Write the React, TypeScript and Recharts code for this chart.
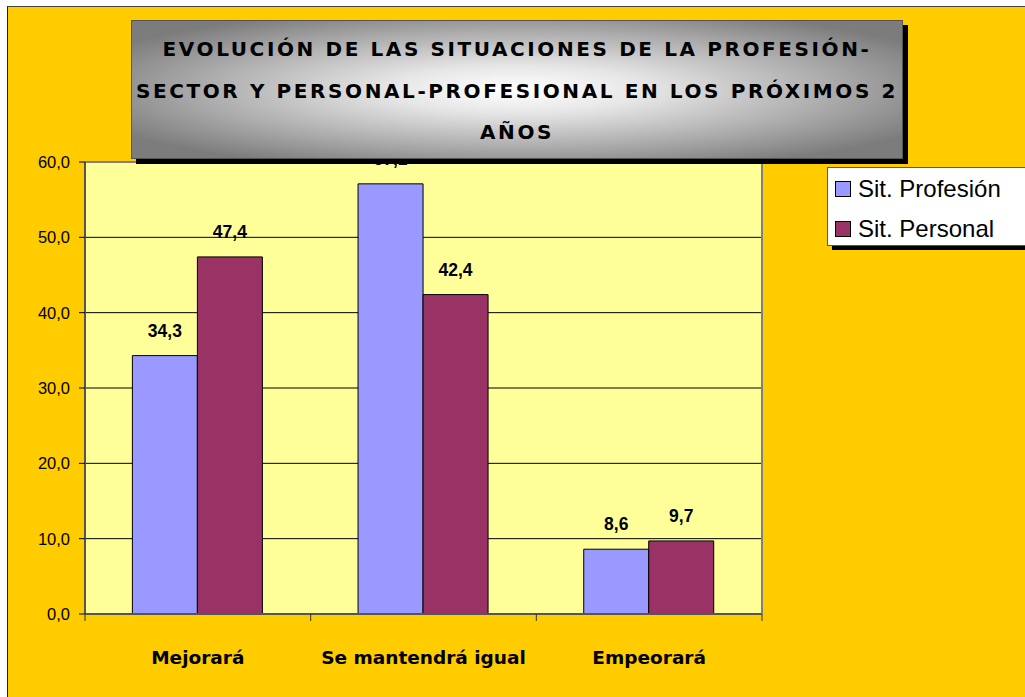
import React from 'react';
import { BarChart, Bar, XAxis, YAxis, CartesianGrid, LabelList, Legend } from 'recharts';

const categories = ['Mejorará', 'Se mantendrá igual', 'Empeorará'];
const profesion = [34.3, 57.1, 8.6];
const personal = [47.4, 42.4, 9.7];
const yTicks = [0, 10, 20, 30, 40, 50, 60];
const seriesNames = ['Sit. Profesión', 'Sit. Personal'];
const seriesColors = ['#9999FF', '#993366'];
const titleLines = [
  'EVOLUCIÓN DE LAS SITUACIONES DE LA PROFESIÓN-',
  'SECTOR Y PERSONAL-PROFESIONAL EN LOS PRÓXIMOS 2',
  'AÑOS',
];

const data = categories.map((c, i) => ({ name: c, profesion: profesion[i], personal: personal[i] }));

const fmt = (v: number) => v.toFixed(1).replace('.', ',');

const comic = '"DejaVu Sans", sans-serif';
const arial = '"Liberation Sans", Arial, sans-serif';

// Category tick: label at band centre plus tick marks at the band boundaries (half band = payload.offset)
const CatTick = (props: any) => {
  const { x, y, payload, index, visibleTicksCount } = props;
  const half = Number(payload.offset) || 0;
  const isLast = index === visibleTicksCount - 1;
  return (
    <g>
      <line x1={x - half} x2={x - half} y1={y} y2={y + 7} stroke="#333" strokeWidth={1} />
      {isLast && <line x1={x + half} x2={x + half} y1={y} y2={y + 7} stroke="#333" strokeWidth={1} />}
      <text x={x} y={y + 50} textAnchor="middle" fontFamily={comic} fontWeight="bold" fontSize={18.5} fill="#000">
        {payload.value}
      </text>
    </g>
  );
};

const NoTick = () => <g />;

const LegendContent = () => (
  <div style={{ fontFamily: arial, fontSize: 24, color: '#000', padding: '2px 0 0 7px' }}>
    {seriesNames.map((n, i) => (
      <div key={n} style={{ display: 'flex', alignItems: 'center', height: 38, marginBottom: i === 0 ? 2 : 0 }}>
        <span style={{ display: 'inline-block', width: 14, height: 14, background: seriesColors[i], border: '1.5px solid #000', marginRight: 7 }} />
        <span>{n}</span>
      </div>
    ))}
  </div>
);

const labelStyle = { fontFamily: arial, fontWeight: 'bold', fontSize: 17.5, fill: '#000' };

export default function App() {
  return (
    <div style={{ position: 'absolute', left: 0, top: 0, width: 1025, height: 697, overflow: 'hidden', background: '#fff' }}>
      <div style={{ position: 'absolute', left: 7, top: 6, width: 1030, height: 700, background: '#FFCC00', borderLeft: '1.5px solid #222', borderTop: '1.5px solid #444' }} />
      <div style={{ position: 'absolute', left: 0, top: 0 }}>
        <BarChart
          width={1025}
          height={697}
          data={data}
          margin={{ top: 161, right: 262, left: 25, bottom: 23 }}
          barCategoryGap="21%"
          barGap={0}
        >
          <CartesianGrid fill="#FFFF99" vertical={false} stroke="#000" strokeWidth={1} />
          <XAxis xAxisId="top" orientation="top" type="number" domain={[0, 3]} height={1} tick={<NoTick />} tickLine={false} axisLine={{ stroke: '#808080', strokeWidth: 2 }} />
          <XAxis
            dataKey="name"
            height={60}
            tickSize={0}
            tickMargin={0}
            tickLine={false}
            tick={<CatTick />}
            interval={0}
            axisLine={{ stroke: '#555', strokeWidth: 2 }}
          />
          <YAxis
            domain={[0, 60]}
            ticks={yTicks}
            width={60}
            tickFormatter={fmt}
            tickSize={6}
            tickMargin={9}
            tick={{ fontFamily: arial, fontSize: 16.5, fill: '#000' }}
            axisLine={{ stroke: '#555', strokeWidth: 2 }}
            tickLine={{ stroke: '#000' }}
          />
          <YAxis yAxisId="right" orientation="right" width={1} domain={[0, 60]} ticks={yTicks} tick={<NoTick />} tickLine={false} axisLine={{ stroke: '#808080', strokeWidth: 2 }} />
          <Legend
            layout="vertical"
            align="center"
            verticalAlign="middle"
            content={<LegendContent />}
            wrapperStyle={{ left: 827, top: 167, width: 210, height: 79, background: '#fff', border: '1px solid #555', boxShadow: '5px 4px 0 #000', boxSizing: 'border-box' }}
          />
          <Bar dataKey="profesion" name={seriesNames[0]} fill={seriesColors[0]} stroke="#000" strokeWidth={1} isAnimationActive={false}>
            <LabelList dataKey="profesion" position="top" offset={19} formatter={(v: any) => fmt(Number(v))} style={labelStyle} />
          </Bar>
          <Bar dataKey="personal" name={seriesNames[1]} fill={seriesColors[1]} stroke="#000" strokeWidth={1} isAnimationActive={false}>
            <LabelList dataKey="personal" position="top" offset={19} formatter={(v: any) => fmt(Number(v))} style={labelStyle} />
          </Bar>
        </BarChart>
      </div>
      <div
        style={{
          position: 'absolute',
          left: 131,
          top: 20,
          width: 772,
          height: 139,
          boxSizing: 'border-box',
          border: '1px solid #555',
          background: 'radial-gradient(ellipse 60% 62% at 50% 50%, #ffffff 0%, #e6e6e6 28%, #acacac 68%, #7c7c7c 100%)',
          boxShadow: '5px 5px 0 #000',
          zIndex: 5,
          textAlign: 'center',
          fontFamily: comic,
          fontWeight: 'bold',
          fontSize: 20,
          letterSpacing: 2.6,
          lineHeight: '41.5px',
          paddingTop: 8,
          whiteSpace: 'nowrap',
          color: '#000',
        }}
      >
        {titleLines.map((l) => (
          <div key={l}>{l}</div>
        ))}
      </div>
    </div>
  );
}
